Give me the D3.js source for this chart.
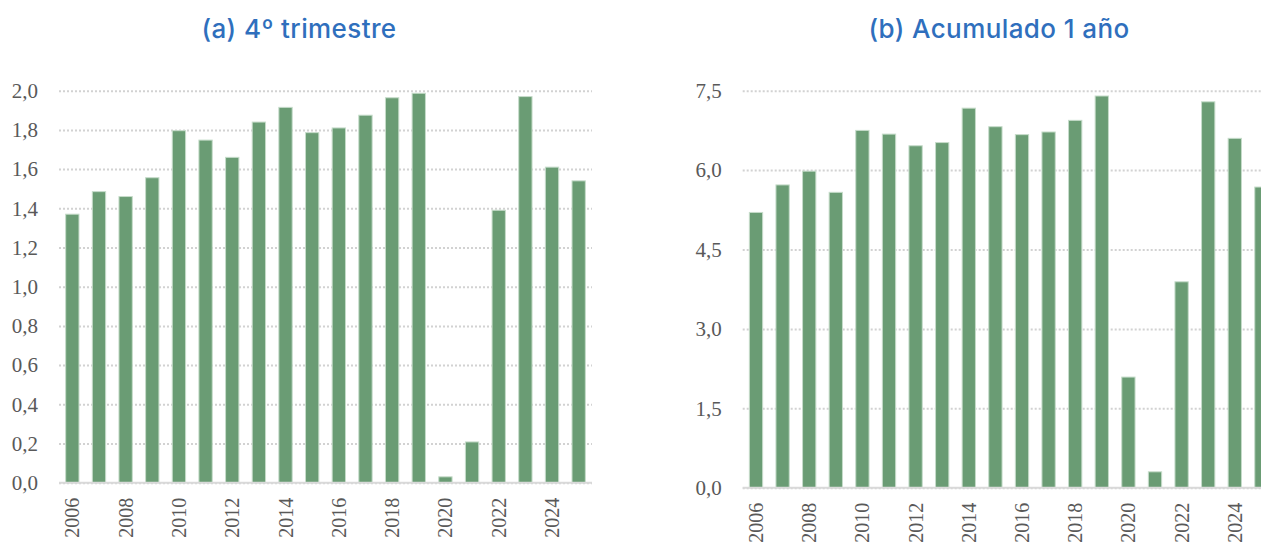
<!DOCTYPE html>
<html>
<head>
<meta charset="utf-8">
<script src="https://cdn.jsdelivr.net/npm/d3@7"></script>
<style>
  body { margin: 0; background: #fff; }
  svg { display: block; }
  .title { font-family: Inter, 'Noto Sans', sans-serif; font-weight: 500; fill: #2f6fbd; }
  .tick text { font-family: 'Liberation Serif', 'DejaVu Serif', serif; fill: #595959; }
</style>
</head>
<body>
<div id="chart"></div>
<script>
// Years on the x axis.
const years = [2006, 2007, 2008, 2009, 2010, 2011, 2012, 2013, 2014, 2015,
               2016, 2017, 2018, 2019, 2020, 2021, 2022, 2023, 2024, 2025]
const yearLabels = [2006, 2008, 2010, 2012, 2014, 2016, 2018, 2020, 2022, 2024]

// (a) 4º trimestre.
const trimestre = [1.37, 1.485, 1.46, 1.556, 1.796, 1.748, 1.66, 1.84, 1.915, 1.786,
                   1.81, 1.875, 1.964, 1.987, 0.03, 0.208, 1.39, 1.97, 1.61, 1.54]
const trimestreTicks = [0, 0.2, 0.4, 0.6, 0.8, 1.0, 1.2, 1.4, 1.6, 1.8, 2.0]

// (b) Acumulado 1 año.
const acumulado = [5.20, 5.72, 5.98, 5.58, 6.75, 6.68, 6.46, 6.52, 7.17, 6.82,
                   6.67, 6.72, 6.94, 7.40, 2.09, 0.30, 3.89, 7.29, 6.60, 5.68]
const acumuladoTicks = [0, 1.5, 3.0, 4.5, 6.0, 7.5]

const W = 1261, H = 544

const svg = d3.select('#chart')
  .append('svg')
    .attr('width', W)
    .attr('height', H)

const es = d3.formatLocale({ decimal: ',', thousands: '.', grouping: [3], currency: ['', '€'] })
const fmt = es.format('.1f')

function panel(opts) {
  const g = svg.append('g')

  const x = d3.scaleBand()
    .domain(years)
    .range([opts.left, opts.right])
    .paddingInner(0.5)
    .paddingOuter(0.25)

  const y = d3.scaleLinear()
    .domain([0, opts.max])
    .range([opts.bottom, opts.top])

  // Title.
  g.append('text')
    .attr('class', 'title')
    .attr('x', opts.titleX)
    .attr('y', 38)
    .attr('text-anchor', 'middle')
    .style('font-size', '26px')
    .style('letter-spacing', '0.4px')
    .text(opts.title)

  // Y axis with dotted gridlines.
  const yAxis = g.append('g')
    .attr('transform', 'translate(' + opts.left + ',0)')
    .call(d3.axisLeft(y)
      .tickValues(opts.ticks)
      .tickFormat(fmt)
      .tickSize(-(opts.right - opts.left))
      .tickPadding(21))
  yAxis.select('.domain').remove()
  yAxis.selectAll('.tick line')
    .attr('stroke', '#d2d2d2')
    .attr('stroke-width', 2)
    .attr('stroke-dasharray', '2,2')
  yAxis.selectAll('.tick text')
    .style('font-size', '21px')
    .attr('dy', '0.32em')

  // Bars.
  g.selectAll('rect.bar')
    .data(opts.values)
    .enter()
    .append('rect')
      .attr('class', 'bar')
      .attr('x', (d, i) => x(years[i]))
      .attr('y', d => y(d))
      .attr('width', x.bandwidth())
      .attr('height', d => y(0) - y(d))
      .attr('fill', '#6a9c74')
      .attr('stroke', '#c6dcca')
      .attr('stroke-width', 1)

  // Baseline.
  g.append('line')
    .attr('x1', opts.left)
    .attr('x2', opts.right)
    .attr('y1', y(0))
    .attr('y2', y(0))
    .attr('stroke', '#d9d9d9')
    .attr('stroke-width', 2)

  // X axis, rotated year labels.
  const xAxis = g.append('g')
    .attr('transform', 'translate(0,' + y(0) + ')')
    .call(d3.axisBottom(x).tickValues(yearLabels).tickSize(0))
  xAxis.select('.domain').remove()
  xAxis.selectAll('.tick text')
    .style('font-size', '20px')
    .style('text-anchor', 'end')
    .attr('transform', 'rotate(-90)')
    .attr('x', -15)
    .attr('y', 0)
    .attr('dy', '0.35em')
}

panel({
  title: '(a) 4º trimestre', titleX: 299,
  values: trimestre, ticks: trimestreTicks, max: 2.0,
  left: 59, right: 592, top: 90.7, bottom: 482.7
})

panel({
  title: '(b) Acumulado 1 año', titleX: 999,
  values: acumulado, ticks: acumuladoTicks, max: 7.5,
  left: 742.7, right: 1274.7, top: 90.7, bottom: 487.7
})
</script>
</body>
</html>
